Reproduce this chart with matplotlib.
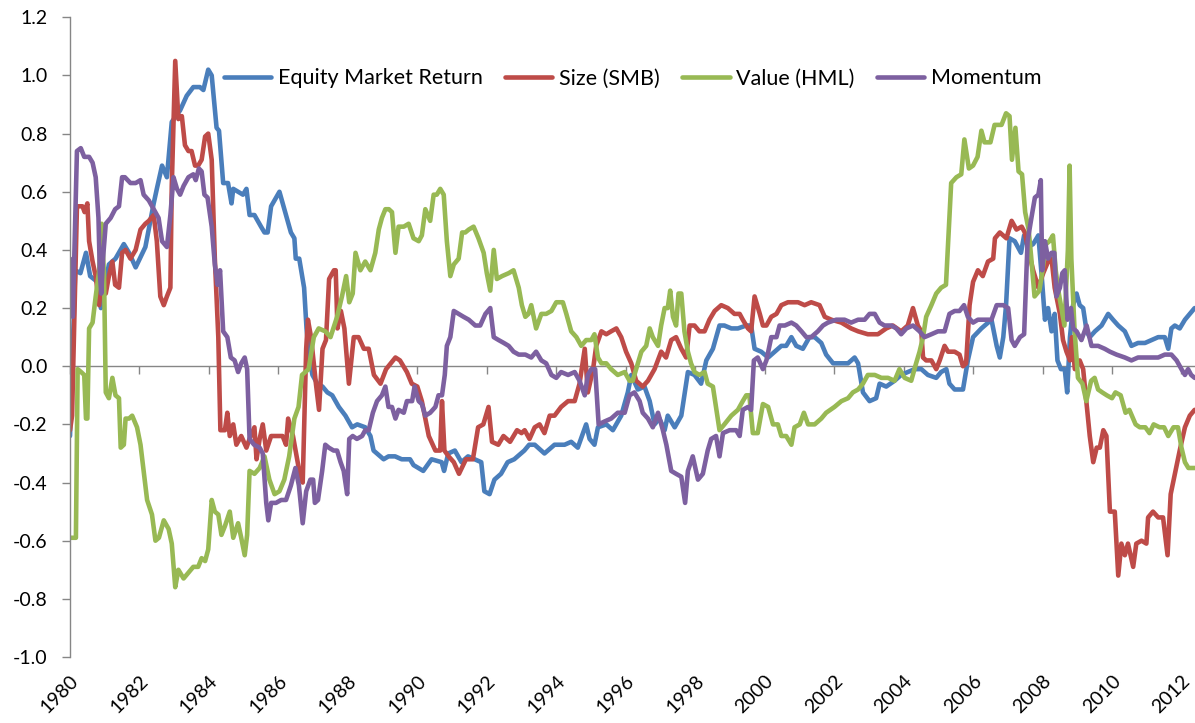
import matplotlib
matplotlib.use("Agg")
import matplotlib.pyplot as plt

# values (year, value)
mkt_years = [1980.00, 1980.15, 1980.30, 1980.46, 1980.58, 1980.79, 1980.89, 1981.12, 1981.31, 1981.55,
             1981.70, 1981.89, 1982.17, 1982.41, 1982.50, 1982.65, 1982.79, 1982.93, 1983.17, 1983.36,
             1983.55, 1983.74, 1983.84, 1983.98, 1984.08, 1984.22, 1984.29, 1984.41, 1984.55, 1984.65,
             1984.70, 1984.84, 1984.98, 1985.08, 1985.17, 1985.31, 1985.50, 1985.60, 1985.69, 1985.79,
             1986.03, 1986.22, 1986.36, 1986.46, 1986.50, 1986.60, 1986.74, 1986.81, 1986.89, 1986.98,
             1987.12, 1987.27, 1987.41, 1987.55, 1987.74, 1987.93, 1988.12, 1988.27, 1988.50, 1988.65,
             1988.74, 1989.03, 1989.17, 1989.36, 1989.55, 1989.79, 1989.89, 1990.17, 1990.41, 1990.70,
             1990.77, 1990.89, 1991.08, 1991.27, 1991.46, 1991.84, 1991.93, 1992.08, 1992.22, 1992.41,
             1992.60, 1992.79, 1993.08, 1993.22, 1993.38, 1993.66, 1993.95, 1994.24, 1994.43, 1994.62,
             1994.86, 1994.96, 1995.10, 1995.20, 1995.44, 1995.63, 1995.87, 1996.06, 1996.16, 1996.35,
             1996.54, 1996.69, 1996.83, 1996.97, 1997.12, 1997.21, 1997.41, 1997.60, 1997.79, 1997.98,
             1998.17, 1998.32, 1998.51, 1998.70, 1998.84, 1999.04, 1999.23, 1999.47, 1999.61, 1999.71,
             1999.90, 2000.10, 2000.29, 2000.48, 2000.62, 2000.77, 2000.91, 2001.10, 2001.29, 2001.44,
             2001.63, 2001.77, 2001.97, 2002.16, 2002.40, 2002.59, 2002.69, 2002.83, 2003.02, 2003.21,
             2003.31, 2003.50, 2003.74, 2003.93, 2004.12, 2004.32, 2004.51, 2004.70, 2004.94, 2005.08,
             2005.23, 2005.32, 2005.47, 2005.71, 2005.85, 2006.00, 2006.24, 2006.53, 2006.68, 2006.77,
             2006.87, 2006.95, 2007.05, 2007.20, 2007.38, 2007.47, 2007.59, 2007.73, 2007.88, 2007.97,
             2008.07, 2008.16, 2008.26, 2008.35, 2008.43, 2008.53, 2008.64, 2008.71, 2008.79, 2008.88,
             2008.98, 2009.07, 2009.17, 2009.27, 2009.36, 2009.51, 2009.70, 2009.89, 2010.03, 2010.18,
             2010.37, 2010.56, 2010.75, 2010.95, 2011.14, 2011.33, 2011.52, 2011.62, 2011.71, 2011.81,
             2011.95, 2012.10, 2012.38]
mkt_vals = [-0.24, 0.33, 0.32, 0.39, 0.31, 0.29, 0.20, 0.35, 0.37, 0.42,
            0.39, 0.34, 0.41, 0.56, 0.61, 0.69, 0.65, 0.84, 0.88, 0.93,
            0.96, 0.96, 0.95, 1.02, 1.00, 0.82, 0.81, 0.63, 0.63, 0.56,
            0.61, 0.60, 0.59, 0.61, 0.52, 0.52, 0.48, 0.46, 0.46, 0.55,
            0.60, 0.52, 0.46, 0.44, 0.37, 0.37, 0.27, 0.13, 0.03, -0.03,
            -0.06, -0.07, -0.09, -0.10, -0.14, -0.17, -0.21, -0.20, -0.21, -0.24,
            -0.29, -0.32, -0.31, -0.31, -0.32, -0.32, -0.34, -0.36, -0.32, -0.33,
            -0.36, -0.30, -0.29, -0.33, -0.31, -0.33, -0.43, -0.44, -0.39, -0.37,
            -0.33, -0.32, -0.29, -0.27, -0.27, -0.30, -0.27, -0.27, -0.26, -0.28,
            -0.20, -0.25, -0.27, -0.21, -0.20, -0.22, -0.17, -0.09, -0.03, -0.08,
            -0.07, -0.12, -0.20, -0.18, -0.22, -0.17, -0.21, -0.17, -0.02, -0.03,
            -0.06, 0.02, 0.06, 0.14, 0.14, 0.13, 0.13, 0.14, 0.14, 0.06,
            0.05, 0.03, 0.05, 0.07, 0.07, 0.10, 0.07, 0.06, 0.10, 0.10,
            0.08, 0.04, 0.01, 0.01, 0.01, 0.03, 0.01, -0.09, -0.12, -0.11,
            -0.06, -0.07, -0.05, -0.03, -0.02, -0.01, -0.01, -0.03, -0.04, -0.02,
            -0.01, -0.06, -0.08, -0.08, 0.02, 0.10, 0.13, 0.16, 0.07, 0.03,
            0.10, 0.21, 0.44, 0.43, 0.39, 0.45, 0.41, 0.42, 0.45, 0.32,
            0.16, 0.20, 0.12, 0.18, 0.02, -0.01, -0.01, -0.09, 0.10, 0.21,
            0.25, 0.21, 0.20, 0.12, 0.10, 0.12, 0.14, 0.18, 0.16, 0.14,
            0.12, 0.07, 0.08, 0.08, 0.09, 0.10, 0.10, 0.06, 0.13, 0.14,
            0.13, 0.16, 0.20]

smb_years = [1980.00, 1980.06, 1980.20, 1980.36, 1980.42, 1980.50, 1980.55, 1980.65, 1980.74, 1980.84,
             1980.93, 1981.03, 1981.12, 1981.22, 1981.30, 1981.41, 1981.50, 1981.60, 1981.74, 1981.89,
             1982.03, 1982.17, 1982.27, 1982.41, 1982.50, 1982.60, 1982.70, 1982.79, 1982.89, 1982.93,
             1983.03, 1983.12, 1983.22, 1983.31, 1983.41, 1983.50, 1983.60, 1983.69, 1983.79, 1983.89,
             1983.98, 1984.08, 1984.17, 1984.27, 1984.33, 1984.46, 1984.53, 1984.60, 1984.70, 1984.79,
             1984.93, 1985.08, 1985.17, 1985.31, 1985.37, 1985.46, 1985.55, 1985.65, 1985.79, 1985.98,
             1986.12, 1986.22, 1986.28, 1986.42, 1986.60, 1986.70, 1986.80, 1986.85, 1986.94, 1987.08,
             1987.17, 1987.27, 1987.37, 1987.46, 1987.60, 1987.65, 1987.70, 1987.80, 1987.90, 1988.03,
             1988.17, 1988.31, 1988.46, 1988.60, 1988.75, 1988.94, 1989.10, 1989.37, 1989.50, 1989.70,
             1989.84, 1990.00, 1990.13, 1990.33, 1990.52, 1990.66, 1990.71, 1990.78, 1990.90, 1991.05,
             1991.20, 1991.40, 1991.60, 1991.75, 1991.90, 1992.05, 1992.15, 1992.33, 1992.48, 1992.67,
             1992.87, 1993.00, 1993.09, 1993.23, 1993.38, 1993.52, 1993.66, 1993.81, 1993.95, 1994.14,
             1994.34, 1994.53, 1994.67, 1994.82, 1994.91, 1995.06, 1995.15, 1995.30, 1995.44, 1995.58,
             1995.73, 1995.87, 1996.01, 1996.16, 1996.30, 1996.49, 1996.64, 1996.83, 1997.02, 1997.16,
             1997.31, 1997.45, 1997.60, 1997.74, 1997.84, 1997.98, 1998.12, 1998.27, 1998.41, 1998.56,
             1998.75, 1998.94, 1999.13, 1999.28, 1999.37, 1999.52, 1999.61, 1999.71, 1999.86, 1999.95,
             2000.05, 2000.19, 2000.34, 2000.48, 2000.67, 2000.82, 2000.96, 2001.15, 2001.34, 2001.58,
             2001.73, 2001.92, 2002.21, 2002.49, 2002.69, 2002.97, 2003.26, 2003.50, 2003.69, 2003.93,
             2004.12, 2004.27, 2004.41, 2004.51, 2004.56, 2004.65, 2004.80, 2004.94, 2005.04, 2005.18,
             2005.28, 2005.47, 2005.61, 2005.71, 2005.80, 2005.90, 2006.00, 2006.14, 2006.28, 2006.43,
             2006.58, 2006.63, 2006.77, 2006.96, 2007.11, 2007.25, 2007.40, 2007.49, 2007.59, 2007.73,
             2007.88, 2008.02, 2008.16, 2008.26, 2008.35, 2008.50, 2008.59, 2008.69, 2008.79, 2008.85,
             2008.93, 2009.07, 2009.17, 2009.27, 2009.36, 2009.46, 2009.56, 2009.65, 2009.75, 2009.84,
             2009.94, 2010.08, 2010.18, 2010.27, 2010.37, 2010.46, 2010.61, 2010.70, 2010.85, 2010.99,
             2011.04, 2011.18, 2011.33, 2011.47, 2011.60, 2011.69, 2011.81, 2011.95, 2012.10, 2012.24,
             2012.38]
smb_vals = [-0.22, -0.17, 0.55, 0.55, 0.53, 0.56, 0.43, 0.36, 0.31, 0.21,
            0.32, 0.25, 0.31, 0.36, 0.28, 0.27, 0.39, 0.40, 0.37, 0.40,
            0.47, 0.49, 0.50, 0.52, 0.43, 0.24, 0.21, 0.24, 0.27, 0.62,
            1.05, 0.85, 0.86, 0.76, 0.74, 0.74, 0.69, 0.69, 0.71, 0.79,
            0.80, 0.71, 0.37, 0.10, -0.22, -0.22, -0.16, -0.24, -0.20, -0.27,
            -0.24, -0.28, -0.25, -0.21, -0.32, -0.25, -0.20, -0.29, -0.24, -0.24,
            -0.24, -0.27, -0.18, -0.24, -0.36, -0.40, 0.06, 0.16, 0.10, -0.06,
            -0.15, 0.06, 0.09, 0.30, 0.33, 0.33, 0.13, 0.19, 0.13, -0.06,
            0.10, 0.10, 0.06, 0.06, -0.03, -0.06, -0.01, 0.03, 0.02, -0.02,
            -0.06, -0.07, -0.12, -0.24, -0.29, -0.29, -0.12, -0.29, -0.31, -0.33,
            -0.37, -0.32, -0.32, -0.21, -0.20, -0.14, -0.26, -0.27, -0.24, -0.26,
            -0.22, -0.23, -0.22, -0.25, -0.21, -0.20, -0.23, -0.17, -0.17, -0.14,
            -0.12, -0.12, -0.06, 0.06, -0.09, -0.01, 0.07, 0.12, 0.11, 0.12,
            0.13, 0.10, 0.05, 0.01, -0.05, -0.07, -0.05, -0.01, 0.05, 0.03,
            0.09, 0.10, 0.06, 0.03, 0.14, 0.14, 0.12, 0.12, 0.16, 0.19,
            0.21, 0.20, 0.18, 0.18, 0.16, 0.13, 0.12, 0.24, 0.18, 0.14,
            0.14, 0.17, 0.18, 0.21, 0.22, 0.22, 0.22, 0.21, 0.22, 0.21,
            0.17, 0.16, 0.15, 0.13, 0.12, 0.11, 0.11, 0.13, 0.14, 0.12,
            0.14, 0.20, 0.14, 0.12, 0.03, 0.02, 0.02, -0.01, 0.02, 0.07,
            0.05, 0.05, 0.04, 0.00, 0.01, 0.21, 0.29, 0.33, 0.31, 0.36,
            0.37, 0.44, 0.46, 0.44, 0.50, 0.47, 0.48, 0.46, 0.40, 0.33,
            0.27, 0.32, 0.36, 0.37, 0.27, 0.18, 0.09, 0.05, 0.02, 0.10,
            -0.01, 0.02, -0.01, -0.13, -0.24, -0.33, -0.28, -0.28, -0.22, -0.24,
            -0.50, -0.50, -0.72, -0.61, -0.65, -0.61, -0.69, -0.61, -0.60, -0.61,
            -0.52, -0.50, -0.52, -0.52, -0.65, -0.44, -0.37, -0.29, -0.21, -0.17,
            -0.15]

hml_years = [1980.00, 1980.17, 1980.22, 1980.32, 1980.41, 1980.46, 1980.50, 1980.55, 1980.65, 1980.74,
             1980.84, 1980.91, 1980.98, 1981.03, 1981.12, 1981.22, 1981.31, 1981.41, 1981.46, 1981.55,
             1981.60, 1981.70, 1981.79, 1981.93, 1982.03, 1982.12, 1982.22, 1982.36, 1982.46, 1982.56,
             1982.70, 1982.84, 1982.93, 1983.03, 1983.12, 1983.27, 1983.41, 1983.55, 1983.69, 1983.79,
             1983.89, 1983.98, 1984.08, 1984.17, 1984.27, 1984.36, 1984.46, 1984.60, 1984.70, 1984.84,
             1984.93, 1985.03, 1985.10, 1985.17, 1985.31, 1985.46, 1985.60, 1985.74, 1985.89, 1986.03,
             1986.17, 1986.31, 1986.46, 1986.58, 1986.68, 1986.87, 1987.02, 1987.16, 1987.35, 1987.50,
             1987.69, 1987.83, 1987.95, 1988.04, 1988.14, 1988.22, 1988.36, 1988.50, 1988.65, 1988.79,
             1988.89, 1988.98, 1989.08, 1989.18, 1989.27, 1989.37, 1989.46, 1989.61, 1989.75, 1989.89,
             1990.04, 1990.13, 1990.23, 1990.37, 1990.47, 1990.56, 1990.66, 1990.76, 1990.85, 1990.95,
             1991.05, 1991.19, 1991.29, 1991.38, 1991.48, 1991.62, 1991.76, 1991.91, 1992.00, 1992.10,
             1992.20, 1992.29, 1992.44, 1992.63, 1992.77, 1992.92, 1993.01, 1993.11, 1993.20, 1993.28,
             1993.42, 1993.57, 1993.71, 1993.86, 1994.00, 1994.19, 1994.29, 1994.43, 1994.58, 1994.72,
             1994.86, 1995.01, 1995.10, 1995.20, 1995.30, 1995.44, 1995.58, 1995.77, 1995.97, 1996.11,
             1996.20, 1996.30, 1996.45, 1996.59, 1996.69, 1996.78, 1996.93, 1997.02, 1997.12, 1997.21,
             1997.28, 1997.36, 1997.45, 1997.52, 1997.60, 1997.69, 1997.79, 1997.88, 1997.98, 1998.12,
             1998.27, 1998.36, 1998.51, 1998.60, 1998.70, 1998.84, 1999.04, 1999.23, 1999.37, 1999.47,
             1999.56, 1999.66, 1999.80, 1999.95, 2000.10, 2000.24, 2000.38, 2000.48, 2000.62, 2000.77,
             2000.86, 2001.01, 2001.13, 2001.25, 2001.44, 2001.63, 2001.77, 2002.01, 2002.21, 2002.40,
             2002.54, 2002.69, 2002.83, 2002.97, 2003.17, 2003.36, 2003.55, 2003.74, 2003.88, 2004.03,
             2004.22, 2004.36, 2004.46, 2004.56, 2004.65, 2004.80, 2004.94, 2005.08, 2005.22, 2005.37,
             2005.52, 2005.66, 2005.75, 2005.88, 2006.00, 2006.13, 2006.24, 2006.33, 2006.50, 2006.62,
             2006.82, 2006.95, 2007.05, 2007.12, 2007.22, 2007.31, 2007.41, 2007.50, 2007.60, 2007.67,
             2007.77, 2007.91, 2008.00, 2008.10, 2008.20, 2008.30, 2008.38, 2008.47, 2008.63, 2008.73,
             2008.78, 2008.83, 2008.92, 2009.02, 2009.15, 2009.26, 2009.40, 2009.50, 2009.60, 2009.72,
             2009.85, 2010.00, 2010.10, 2010.25, 2010.39, 2010.50, 2010.68, 2010.80, 2010.96, 2011.08,
             2011.20, 2011.37, 2011.50, 2011.62, 2011.77, 2011.90, 2012.00, 2012.10, 2012.20, 2012.38]
hml_vals = [-0.59, -0.59, -0.01, -0.02, -0.03, -0.18, -0.18, 0.13, 0.15, 0.24,
            0.33, 0.49, 0.31, -0.09, -0.11, -0.04, -0.10, -0.11, -0.28, -0.27,
            -0.18, -0.18, -0.17, -0.21, -0.27, -0.36, -0.46, -0.51, -0.60, -0.59,
            -0.53, -0.56, -0.61, -0.76, -0.70, -0.73, -0.71, -0.69, -0.69, -0.66,
            -0.67, -0.63, -0.46, -0.50, -0.51, -0.58, -0.55, -0.50, -0.59, -0.54,
            -0.59, -0.65, -0.58, -0.36, -0.37, -0.35, -0.31, -0.39, -0.44, -0.43,
            -0.39, -0.31, -0.18, -0.14, -0.03, -0.01, 0.10, 0.13, 0.12, 0.10,
            0.17, 0.24, 0.31, 0.22, 0.25, 0.39, 0.33, 0.36, 0.33, 0.39,
            0.47, 0.51, 0.54, 0.54, 0.53, 0.39, 0.48, 0.48, 0.49, 0.44,
            0.43, 0.45, 0.54, 0.50, 0.59, 0.59, 0.61, 0.59, 0.43, 0.31,
            0.35, 0.37, 0.46, 0.46, 0.47, 0.48, 0.44, 0.39, 0.32, 0.26,
            0.40, 0.30, 0.31, 0.32, 0.33, 0.27, 0.21, 0.17, 0.18, 0.21,
            0.13, 0.18, 0.18, 0.19, 0.22, 0.22, 0.18, 0.12, 0.10, 0.07,
            0.09, 0.09, 0.11, 0.03, 0.01, 0.01, -0.01, -0.03, -0.02, -0.05,
            -0.05, -0.01, 0.05, 0.07, 0.13, 0.10, 0.07, 0.14, 0.20, 0.20,
            0.26, 0.17, 0.14, 0.25, 0.25, 0.12, 0.05, 0.01, -0.02, -0.03,
            -0.02, -0.06, -0.07, -0.14, -0.22, -0.20, -0.17, -0.15, -0.12, -0.10,
            -0.10, -0.23, -0.23, -0.13, -0.14, -0.20, -0.20, -0.24, -0.24, -0.27,
            -0.21, -0.20, -0.16, -0.20, -0.20, -0.18, -0.16, -0.14, -0.12, -0.11,
            -0.09, -0.08, -0.06, -0.03, -0.03, -0.04, -0.04, -0.05, -0.01, -0.04,
            -0.05, 0.01, 0.05, 0.10, 0.17, 0.21, 0.25, 0.27, 0.28, 0.63,
            0.65, 0.66, 0.78, 0.68, 0.69, 0.72, 0.81, 0.77, 0.77, 0.83,
            0.83, 0.87, 0.86, 0.71, 0.82, 0.67, 0.66, 0.53, 0.47, 0.38,
            0.24, 0.26, 0.33, 0.42, 0.43, 0.45, 0.33, 0.25, 0.14, 0.40,
            0.69, 0.37, 0.13, -0.04, -0.06, -0.12, -0.05, -0.04, -0.08, -0.09,
            -0.10, -0.11, -0.09, -0.10, -0.16, -0.15, -0.20, -0.21, -0.21, -0.23,
            -0.20, -0.21, -0.21, -0.24, -0.21, -0.21, -0.28, -0.33, -0.35, -0.35]

mom_years = [1980.00, 1980.08, 1980.20, 1980.31, 1980.41, 1980.55, 1980.65, 1980.74, 1980.82, 1980.86,
             1980.90, 1980.95, 1981.03, 1981.17, 1981.30, 1981.41, 1981.50, 1981.58, 1981.74, 1981.89,
             1982.03, 1982.12, 1982.27, 1982.41, 1982.55, 1982.65, 1982.79, 1982.89, 1982.98, 1983.08,
             1983.17, 1983.27, 1983.41, 1983.55, 1983.62, 1983.71, 1983.79, 1983.87, 1983.96, 1984.08,
             1984.17, 1984.25, 1984.32, 1984.41, 1984.53, 1984.63, 1984.74, 1984.84, 1984.93, 1985.03,
             1985.10, 1985.17, 1985.30, 1985.46, 1985.55, 1985.65, 1985.71, 1985.79, 1985.93, 1986.08,
             1986.22, 1986.36, 1986.49, 1986.59, 1986.70, 1986.80, 1986.92, 1987.00, 1987.05, 1987.14,
             1987.26, 1987.35, 1987.45, 1987.59, 1987.69, 1987.79, 1987.88, 1987.98, 1988.04, 1988.14,
             1988.26, 1988.41, 1988.50, 1988.60, 1988.72, 1988.84, 1988.98, 1989.08, 1989.17, 1989.27,
             1989.37, 1989.46, 1989.61, 1989.70, 1989.85, 1989.92, 1990.04, 1990.13, 1990.23, 1990.37,
             1990.52, 1990.61, 1990.71, 1990.79, 1990.85, 1990.95, 1991.05, 1991.19, 1991.33, 1991.48,
             1991.67, 1991.81, 1991.96, 1992.10, 1992.20, 1992.34, 1992.49, 1992.63, 1992.77, 1992.92,
             1993.11, 1993.28, 1993.42, 1993.57, 1993.71, 1993.86, 1994.00, 1994.14, 1994.34, 1994.53,
             1994.67, 1994.82, 1994.91, 1995.01, 1995.12, 1995.22, 1995.39, 1995.58, 1995.77, 1995.97,
             1996.11, 1996.25, 1996.40, 1996.49, 1996.64, 1996.78, 1996.93, 1997.07, 1997.17, 1997.31,
             1997.45, 1997.60, 1997.71, 1997.79, 1997.93, 1998.08, 1998.22, 1998.36, 1998.46, 1998.60,
             1998.70, 1998.80, 1998.99, 1999.18, 1999.28, 1999.37, 1999.52, 1999.61, 1999.69, 1999.80,
             1999.95, 2000.05, 2000.19, 2000.34, 2000.43, 2000.58, 2000.77, 2000.91, 2001.06, 2001.20,
             2001.34, 2001.53, 2001.68, 2001.82, 2002.06, 2002.30, 2002.49, 2002.69, 2002.88, 2003.02,
             2003.17, 2003.31, 2003.45, 2003.65, 2003.79, 2003.93, 2004.08, 2004.27, 2004.46, 2004.60,
             2004.80, 2004.99, 2005.18, 2005.32, 2005.47, 2005.61, 2005.74, 2005.85, 2006.00, 2006.14,
             2006.28, 2006.53, 2006.68, 2006.87, 2007.01, 2007.11, 2007.20, 2007.35, 2007.47, 2007.57,
             2007.68, 2007.78, 2007.88, 2007.95, 2007.99, 2008.07, 2008.16, 2008.26, 2008.34, 2008.40,
             2008.50, 2008.57, 2008.64, 2008.72, 2008.82, 2008.88, 2008.98, 2009.12, 2009.27, 2009.41,
             2009.60, 2009.79, 2009.94, 2010.13, 2010.37, 2010.56, 2010.75, 2010.95, 2011.14, 2011.33,
             2011.52, 2011.71, 2011.86, 2012.00, 2012.10, 2012.19, 2012.28, 2012.38]
mom_vals = [0.37, 0.17, 0.74, 0.75, 0.72, 0.72, 0.70, 0.65, 0.51, 0.32,
            0.25, 0.37, 0.49, 0.51, 0.54, 0.55, 0.65, 0.65, 0.63, 0.63,
            0.64, 0.59, 0.57, 0.54, 0.51, 0.43, 0.41, 0.52, 0.65, 0.61,
            0.59, 0.62, 0.65, 0.66, 0.64, 0.68, 0.67, 0.59, 0.58, 0.48,
            0.35, 0.28, 0.33, 0.12, 0.10, 0.03, 0.02, -0.02, 0.01, 0.03,
            -0.01, -0.25, -0.27, -0.28, -0.30, -0.47, -0.53, -0.47, -0.47, -0.46,
            -0.46, -0.41, -0.35, -0.41, -0.54, -0.43, -0.39, -0.39, -0.47, -0.46,
            -0.36, -0.27, -0.28, -0.29, -0.29, -0.33, -0.36, -0.44, -0.25, -0.24,
            -0.25, -0.24, -0.22, -0.22, -0.16, -0.12, -0.10, -0.07, -0.14, -0.14,
            -0.18, -0.15, -0.16, -0.12, -0.12, -0.07, -0.12, -0.13, -0.17, -0.16,
            -0.14, -0.10, -0.10, -0.03, 0.07, 0.10, 0.19, 0.18, 0.17, 0.16,
            0.14, 0.14, 0.18, 0.20, 0.10, 0.09, 0.08, 0.07, 0.05, 0.04,
            0.04, 0.03, 0.05, 0.02, 0.01, -0.03, -0.04, -0.02, -0.03, -0.02,
            -0.05, -0.10, -0.03, -0.01, -0.01, -0.20, -0.19, -0.18, -0.16, -0.16,
            -0.10, -0.09, -0.12, -0.16, -0.18, -0.21, -0.16, -0.22, -0.27, -0.36,
            -0.37, -0.38, -0.47, -0.36, -0.31, -0.39, -0.37, -0.29, -0.25, -0.24,
            -0.31, -0.23, -0.22, -0.22, -0.24, -0.15, -0.14, -0.15, 0.02, 0.03,
            -0.01, 0.02, 0.10, 0.10, 0.14, 0.14, 0.15, 0.14, 0.12, 0.10,
            0.10, 0.12, 0.14, 0.15, 0.16, 0.16, 0.15, 0.16, 0.16, 0.18,
            0.18, 0.15, 0.14, 0.14, 0.13, 0.11, 0.13, 0.14, 0.12, 0.10,
            0.11, 0.12, 0.12, 0.18, 0.19, 0.19, 0.21, 0.17, 0.15, 0.16,
            0.16, 0.16, 0.21, 0.21, 0.20, 0.09, 0.07, 0.10, 0.11, 0.43,
            0.51, 0.58, 0.59, 0.64, 0.33, 0.43, 0.37, 0.39, 0.39, 0.24,
            0.27, 0.32, 0.33, 0.16, 0.20, 0.13, 0.12, 0.09, 0.14, 0.07,
            0.07, 0.06, 0.05, 0.04, 0.03, 0.02, 0.03, 0.03, 0.03, 0.03,
            0.04, 0.04, 0.02, -0.01, -0.03, -0.01, -0.03, -0.04]

series_names = ["Equity Market Return", "Size (SMB)", "Value (HML)", "Momentum"]
series_colors = ["#4A7EBB", "#BE4B48", "#98B954", "#7D60A0"]

year_ticks = list(range(1980, 2013, 2))
y_ticks = [-1.0, -0.8, -0.6, -0.4, -0.2, 0.0, 0.2, 0.4, 0.6, 0.8, 1.0, 1.2]
y_labels = ["-1.0", "-0.8", "-0.6", "-0.4", "-0.2", "0.0", "0.2", "0.4", "0.6", "0.8", "1.0", "1.2"]

plt.rcParams['font.family'] = ['Lato', 'DejaVu Sans']
axis_gray = "#868686"

fig = plt.figure(figsize=(11.95, 7.23), dpi=100)
ax = fig.add_axes([70 / 1195, 66 / 723, 1 - 70 / 1195, (657 - 17.3) / 723])

data = [(mkt_years, mkt_vals), (smb_years, smb_vals), (hml_years, hml_vals), (mom_years, mom_vals)]
for (xs, ys), name, col in zip(data, series_names, series_colors):
    ax.plot(xs, ys, color=col, lw=3.3, label=name, solid_joinstyle='round', solid_capstyle='round')

ax.set_xlim(1980, 2012.39)
ax.set_ylim(-1.0, 1.2)

# y axis on the left, gray
ax.set_yticks(y_ticks)
ax.set_yticklabels(y_labels)
ax.tick_params(axis='y', direction='out', length=6, width=1, color=axis_gray,
               labelsize=14, pad=10, labelcolor='black')
for s in ['top', 'right', 'bottom']:
    ax.spines[s].set_visible(False)
ax.spines['left'].set_color(axis_gray)
ax.spines['left'].set_linewidth(1)

# year labels at the bottom, rotated
ax.set_xticks(year_ticks)
ax.set_xticklabels([str(y) for y in year_ticks], rotation=45, ha='right', va='top',
                   rotation_mode='anchor')
ax.tick_params(axis='x', length=0, labelsize=14, pad=11)

# horizontal axis line crossing at zero, with tick marks
zero_pos = (0 - (-1.0)) / (1.2 - (-1.0))
sec = ax.secondary_xaxis(zero_pos)
sec.set_xticks(year_ticks)
sec.tick_params(axis='x', direction='out', length=6, width=1, color=axis_gray,
                labelbottom=False, labeltop=False)
for s in sec.spines.values():
    s.set_color(axis_gray)
    s.set_linewidth(1)

leg = ax.legend(loc='center', bbox_to_anchor=(0.5, 1 - (78.5 - 17.3) / (657 - 17.3)),
                ncol=4, frameon=False, fontsize=15.5, handlelength=2.2,
                handletextpad=0.3, columnspacing=1.05)

fig.savefig("out.png", dpi=100)
